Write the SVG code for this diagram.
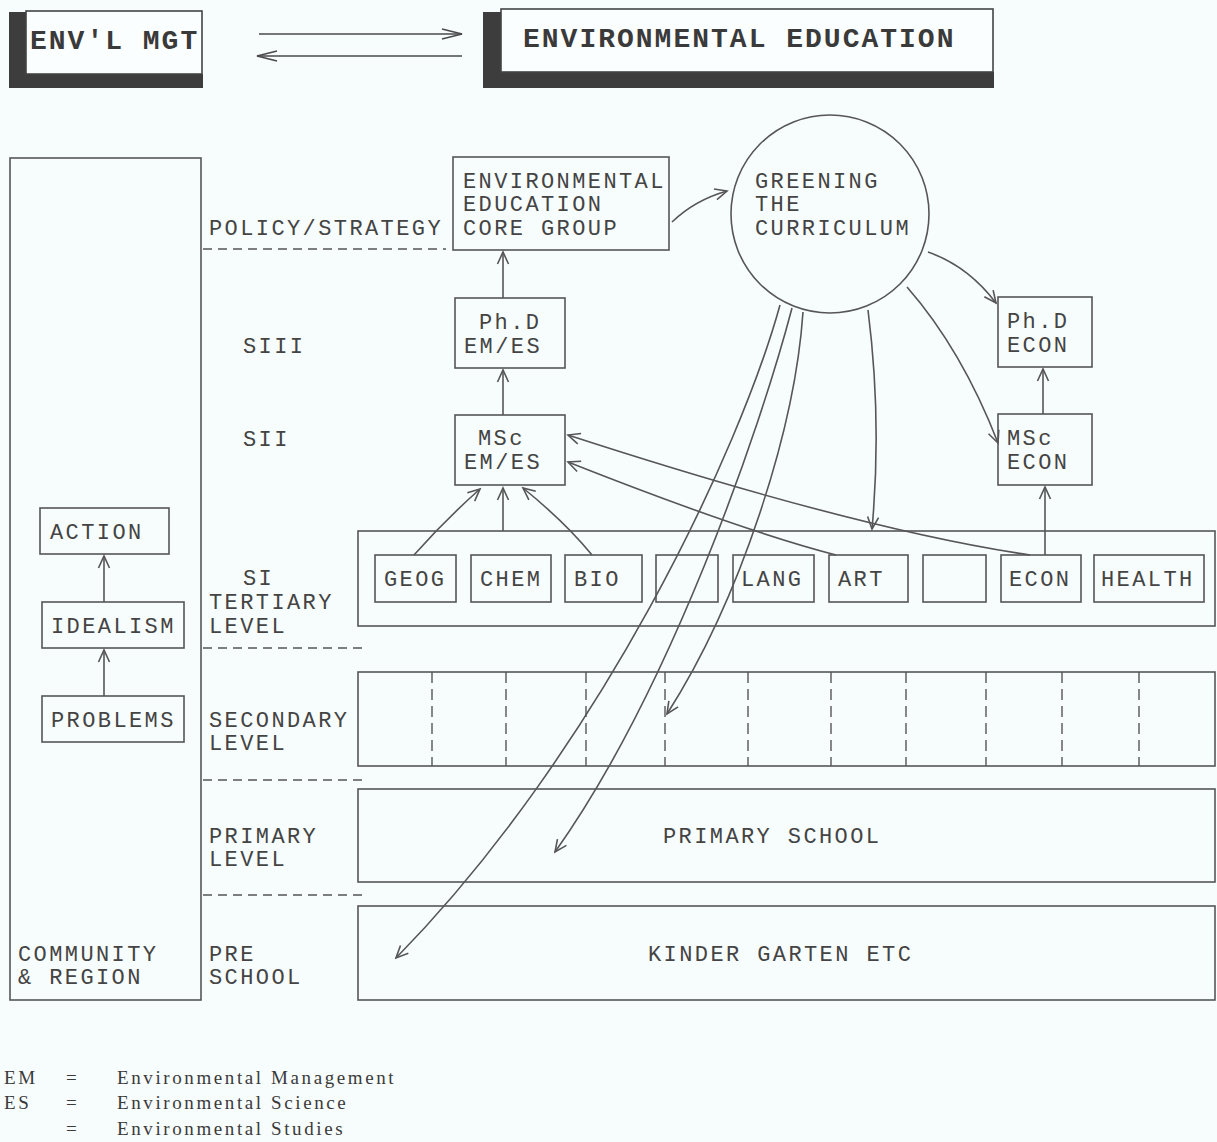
<svg xmlns="http://www.w3.org/2000/svg" width="1217" height="1142" viewBox="0 0 1217 1142">
<style>
.bx{fill:none;stroke:#565656;stroke-width:1.6}
.ln{fill:none;stroke:#565656;stroke-width:1.6}
.t{font-family:"Liberation Mono","DejaVu Sans Mono",monospace;font-size:22px;letter-spacing:2.4px;fill:#444}
.tt{font-family:"Liberation Mono","DejaVu Sans Mono",monospace;font-size:28px;font-weight:bold;letter-spacing:2px;fill:#3a3a3a}
.dash{fill:none;stroke:#565656;stroke-width:1.6;stroke-dasharray:9,6}
.vd{fill:none;stroke:#565656;stroke-width:1.4;stroke-dasharray:11,6}
.lg{font-family:"Liberation Serif","DejaVu Serif",serif;font-size:19px;letter-spacing:2.6px;fill:#3a3a3a}
.dk{fill:#3d3d3d}
</style>
<defs>
<marker id="ah" markerUnits="userSpaceOnUse" markerWidth="16" markerHeight="14" refX="13" refY="7" orient="auto">
<path d="M1,1.5 L13,7 L1,12.5" fill="none" stroke="#565656" stroke-width="1.6"/>
</marker>
<marker id="ahl" markerUnits="userSpaceOnUse" markerWidth="24" markerHeight="14" refX="21" refY="7" orient="auto">
<path d="M1,2 L21,7 L1,12" fill="none" stroke="#4a4a4a" stroke-width="1.6"/>
</marker>
</defs>
<rect width="1217" height="1142" fill="#f7fcfc"/>

<g id="n-envmgt">
<rect class="dk" x="9" y="12" width="17" height="76"/>
<rect class="dk" x="9" y="74" width="194" height="14"/>
<rect x="26" y="11" width="176" height="63" fill="#fbfefe" stroke="#444" stroke-width="1.6"/>
<text class="tt" x="30" y="49">ENV'L MGT</text>
</g>

<g id="n-enved">
<rect class="dk" x="483" y="12" width="18" height="76"/>
<rect class="dk" x="483" y="72" width="511" height="16"/>
<rect x="501" y="9" width="492" height="63" fill="#fbfefe" stroke="#444" stroke-width="1.6"/>
<text class="tt" x="523" y="47">ENVIRONMENTAL EDUCATION</text>
</g>

<g id="n-community">
<rect class="bx" x="10" y="158" width="191" height="842"/>
<text class="t" x="18" y="961">COMMUNITY<tspan x="18" dy="23">&amp; REGION</tspan></text>
</g>
<g id="n-action">
<rect class="bx" x="40" y="508" width="129" height="46"/>
<text class="t" x="50" y="539">ACTION</text>
</g>
<g id="n-idealism">
<rect class="bx" x="42" y="602" width="142" height="46"/>
<text class="t" x="51" y="633">IDEALISM</text>
</g>
<g id="n-problems">
<rect class="bx" x="42" y="696" width="142" height="46"/>
<text class="t" x="51" y="727">PROBLEMS</text>
</g>

<g id="levels">
<text class="t" x="209" y="235">POLICY/STRATEGY</text>
<text class="t" x="243" y="353">SIII</text>
<text class="t" x="243" y="446">SII</text>
<text class="t" x="243" y="585">SI<tspan x="209" dy="24">TERTIARY</tspan><tspan x="209" dy="24">LEVEL</tspan></text>
<text class="t" x="209" y="727">SECONDARY<tspan x="209" dy="23">LEVEL</tspan></text>
<text class="t" x="209" y="843">PRIMARY<tspan x="209" dy="23">LEVEL</tspan></text>
<text class="t" x="209" y="961">PRE<tspan x="209" dy="23">SCHOOL</tspan></text>
<path class="dash" d="M203,249 H446"/>
<path class="dash" d="M203,648 H366"/>
<path class="dash" d="M203,780 H366"/>
<path class="dash" d="M203,895 H366"/>
</g>

<g id="n-coregroup">
<rect class="bx" x="453" y="157" width="216" height="93"/>
<text class="t" x="463" y="188">ENVIRONMENTAL<tspan x="463" dy="23">EDUCATION</tspan><tspan x="463" dy="24">CORE GROUP</tspan></text>
</g>

<g id="n-greening">
<circle class="bx" cx="830" cy="214" r="99"/>
<text class="t" x="755" y="188">GREENING<tspan x="755" dy="23">THE</tspan><tspan x="755" dy="24">CURRICULUM</tspan></text>
</g>

<g id="n-phd-emes">
<rect class="bx" x="455" y="298" width="110" height="70"/>
<text class="t" x="479" y="329">Ph.D<tspan x="464" dy="24">EM/ES</tspan></text>
</g>
<g id="n-msc-emes">
<rect class="bx" x="455" y="415" width="110" height="70"/>
<text class="t" x="478" y="445">MSc<tspan x="464" dy="24">EM/ES</tspan></text>
</g>
<g id="n-phd-econ">
<rect class="bx" x="998" y="297" width="94" height="70"/>
<text class="t" x="1007" y="328">Ph.D<tspan x="1007" dy="24">ECON</tspan></text>
</g>
<g id="n-msc-econ">
<rect class="bx" x="998" y="414" width="94" height="71"/>
<text class="t" x="1007" y="445">MSc<tspan x="1007" dy="24">ECON</tspan></text>
</g>

<g id="n-tertiary">
<rect class="bx" x="358" y="531" width="857" height="95"/>
<g id="n-geog"><rect class="bx" x="375" y="555" width="81" height="47"/><text class="t" x="384" y="586">GEOG</text></g>
<g id="n-chem"><rect class="bx" x="471" y="555" width="80" height="47"/><text class="t" x="480" y="586">CHEM</text></g>
<g id="n-bio"><rect class="bx" x="565" y="555" width="77" height="47"/><text class="t" x="574" y="586">BIO</text></g>
<g id="n-blank1"><rect class="bx" x="656" y="555" width="62" height="47"/></g>
<g id="n-lang"><rect class="bx" x="733" y="555" width="81" height="47"/><text class="t" x="741" y="586">LANG</text></g>
<g id="n-art"><rect class="bx" x="829" y="555" width="79" height="47"/><text class="t" x="838" y="586">ART</text></g>
<g id="n-blank2"><rect class="bx" x="923" y="555" width="63" height="47"/></g>
<g id="n-econ"><rect class="bx" x="1001" y="555" width="80" height="47"/><text class="t" x="1009" y="586">ECON</text></g>
<g id="n-health"><rect class="bx" x="1094" y="555" width="110" height="47"/><text class="t" x="1101" y="586">HEALTH</text></g>
</g>

<g id="n-secondary">
<rect class="bx" x="358" y="672" width="857" height="94"/>
<path class="vd" d="M432,672V766 M506,672V766 M586,672V766 M665,672V766 M748,672V766 M831,672V766 M906,672V766 M986,672V766 M1062,672V766 M1139,672V766"/>
</g>
<g id="n-primary">
<rect class="bx" x="358" y="789" width="857" height="93"/>
<text class="t" x="663" y="843">PRIMARY SCHOOL</text>
</g>
<g id="n-kinder">
<rect class="bx" x="358" y="906" width="857" height="94"/>
<text class="t" x="648" y="961">KINDER GARTEN ETC</text>
</g>

<g id="connectors">
<path d="M259,34 H462" fill="none" stroke="#4a4a4a" stroke-width="1.6" marker-end="url(#ahl)"/>
<path d="M462,56 H257" fill="none" stroke="#4a4a4a" stroke-width="1.6" marker-end="url(#ahl)"/>
<path class="ln" d="M104,602 V556" marker-end="url(#ah)"/>
<path class="ln" d="M104,696 V650" marker-end="url(#ah)"/>
<path class="ln" d="M503,298 V252" marker-end="url(#ah)"/>
<path class="ln" d="M503,415 V370" marker-end="url(#ah)"/>
<path class="ln" d="M1043,414 V369" marker-end="url(#ah)"/>
<path class="ln" d="M1045,555 V487" marker-end="url(#ah)"/>
<path class="ln" d="M672,222 Q695,200 727,191" marker-end="url(#ah)"/>
<path class="ln" d="M928,252 Q968,266 996,303" marker-end="url(#ah)"/>
<path class="ln" d="M907,287 Q962,350 998,443" marker-end="url(#ah)"/>
<path class="ln" d="M868,310 Q882,420 872,529" marker-end="url(#ah)"/>
<path class="ln" d="M414,555 Q445,520 480,489" marker-end="url(#ah)"/>
<path class="ln" d="M503,531 V488" marker-end="url(#ah)"/>
<path class="ln" d="M592,555 Q565,522 523,488" marker-end="url(#ah)"/>
<path class="ln" d="M836,555 Q740,530 568,462" marker-end="url(#ah)"/>
<path class="ln" d="M1030,555 Q860,530 568,435" marker-end="url(#ah)"/>
<path class="ln" d="M780,305 C740,450 600,750 396,958" marker-end="url(#ah)"/>
<path class="ln" d="M792,308 C760,430 670,690 555,852" marker-end="url(#ah)"/>
<path class="ln" d="M803,312 C795,430 740,600 667,714" marker-end="url(#ah)"/>
</g>

<g id="legend">
<text class="lg" x="4" y="1084">EM</text>
<text class="lg" x="66" y="1084">=</text>
<text class="lg" x="117" y="1084">Environmental Management</text>
<text class="lg" x="4" y="1109">ES</text>
<text class="lg" x="66" y="1109">=</text>
<text class="lg" x="117" y="1109">Environmental Science</text>
<text class="lg" x="66" y="1135">=</text>
<text class="lg" x="117" y="1135">Environmental Studies</text>
</g>
</svg>
